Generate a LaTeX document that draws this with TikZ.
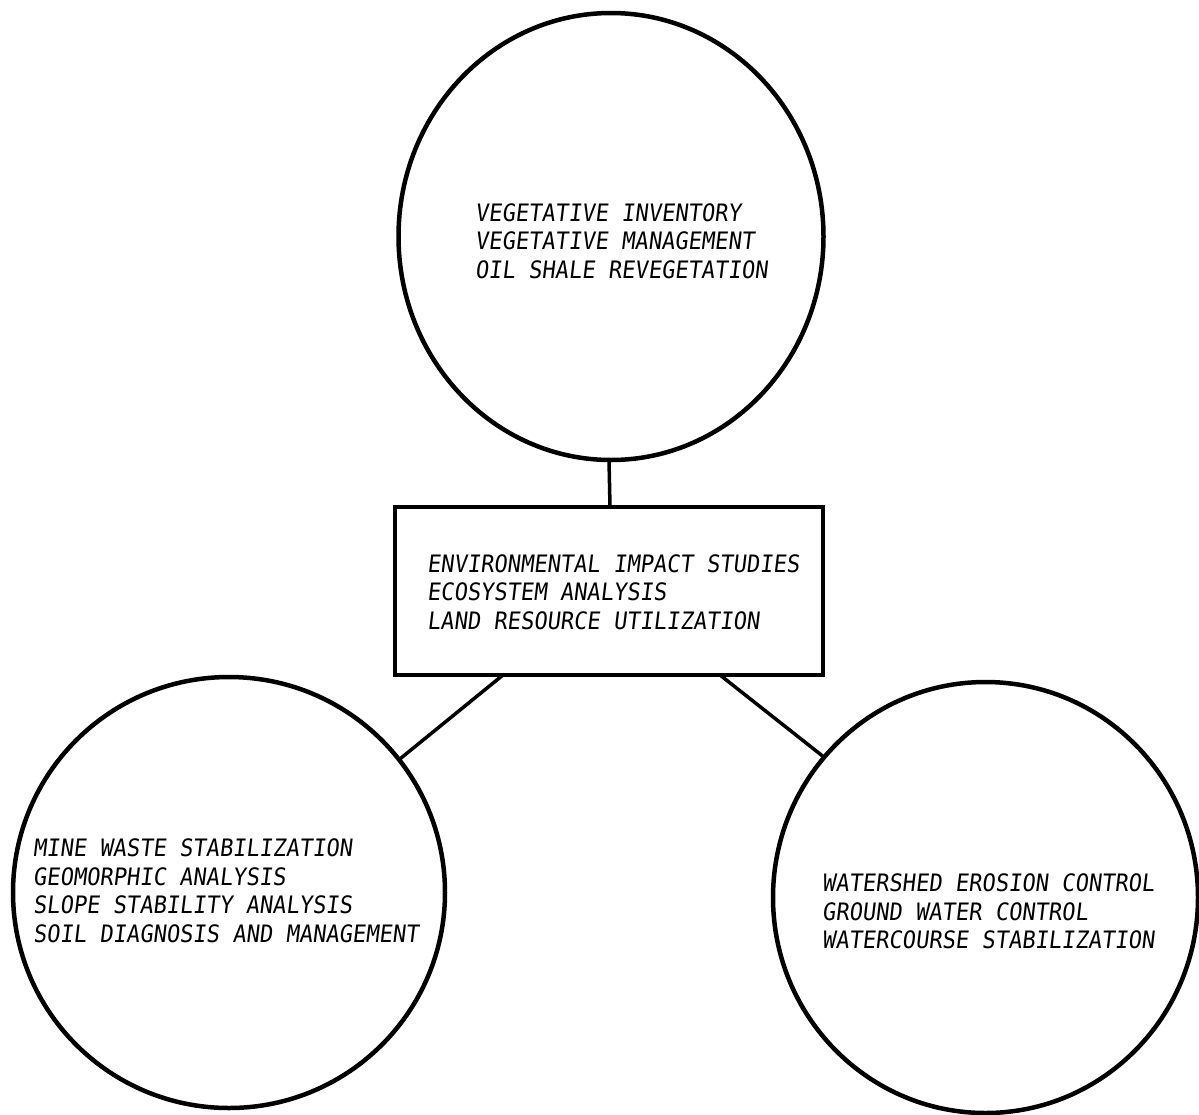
\documentclass[tikz,border=0pt]{standalone}
\usepackage{fontspec}
\newfontfamily\lettering[FakeSlant=0.12,FakeStretch=0.92]{DejaVu Sans Mono}
\usetikzlibrary{shapes.geometric}
\begin{document}
\begin{tikzpicture}[x=1pt,y=-1pt,
  ring/.style={draw,ellipse,line width=4.5pt,inner sep=0pt,outer sep=0pt},
  panel/.style={draw,rectangle,line width=4pt,inner sep=0pt,outer sep=0pt},
  lettertext/.style={font=\lettering\fontsize{24}{28.5}\selectfont,align=left,inner sep=0pt,anchor=west},
  link/.style={line width=3.5pt}]
\useasboundingbox (0,0) rectangle (1199,1114);
% shapes
\node[ring,minimum width=425pt,minimum height=447pt] (top) at (611,236.5) {};
\node[panel,minimum width=428pt,minimum height=168pt] (box) at (609,591) {};
\node[ring,minimum width=432pt,minimum height=431pt] (bl) at (229,892.5) {};
\node[ring,minimum width=425pt,minimum height=431pt] (br) at (985.5,897.5) {};
% texts
\node[lettertext] (ttop) at (475,241) {VEGETATIVE INVENTORY\\VEGETATIVE MANAGEMENT\\OIL SHALE REVEGETATION};
\node[lettertext] (tbox) at (427,592) {ENVIRONMENTAL IMPACT STUDIES\\ECOSYSTEM ANALYSIS\\LAND RESOURCE UTILIZATION};
\node[lettertext] (tbl) at (33,890.5) {MINE WASTE STABILIZATION\\GEOMORPHIC ANALYSIS\\SLOPE STABILITY ANALYSIS\\SOIL DIAGNOSIS AND MANAGEMENT};
\node[lettertext] (tbr) at (822,911.5) {WATERSHED EROSION CONTROL\\GROUND WATER CONTROL\\WATERCOURSE STABILIZATION};
% connectors
\draw[link] ([xshift=-2pt]top.south) -- ([xshift=1pt]box.north);
\draw[link] ([xshift=108pt]box.south west) -- (bl.38.6);
\draw[link] ([xshift=-103pt]box.south east) -- (br.139.9);
\end{tikzpicture}
\end{document}
